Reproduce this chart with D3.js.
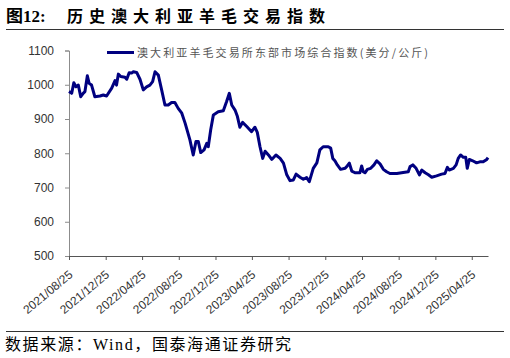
<!DOCTYPE html>
<html>
<head>
<meta charset="utf-8">
<script src="https://cdn.jsdelivr.net/npm/d3@7"></script>
<style>
  body { margin: 0; background: #fff; }
  svg { display: block; }
</style>
</head>
<body>
<svg id="chart" width="510" height="358"></svg>
<script>
// weekly-ish readings of the index, US cents / kg
const dates = [
  "2021-08-25","2021-09-03","2021-09-10","2021-09-17","2021-09-25","2021-10-03","2021-10-11","2021-10-17",
  "2021-10-25","2021-10-31","2021-11-08","2021-11-19","2021-12-06","2021-12-17","2021-12-28","2022-01-14",
  "2022-01-25","2022-01-30","2022-02-05","2022-02-13","2022-02-27","2022-03-05","2022-03-13","2022-03-21",
  "2022-03-27","2022-04-07","2022-04-18","2022-04-29","2022-05-10","2022-05-21","2022-05-30","2022-06-07",
  "2022-06-18","2022-06-29","2022-07-10","2022-07-21","2022-08-01","2022-08-12","2022-08-23","2022-09-04",
  "2022-09-15","2022-10-01","2022-10-12","2022-10-21","2022-10-29","2022-11-06","2022-11-17","2022-11-26",
  "2022-12-01","2022-12-09","2022-12-18","2023-01-03","2023-01-20","2023-01-31","2023-02-09","2023-02-17",
  "2023-02-28","2023-03-08","2023-03-16","2023-03-25","2023-04-08","2023-04-24","2023-05-05","2023-05-13",
  "2023-05-22","2023-05-31","2023-06-08","2023-06-19","2023-06-30","2023-07-14","2023-07-28","2023-08-08",
  "2023-08-19","2023-08-30","2023-09-10","2023-09-19","2023-10-02","2023-10-13","2023-10-24","2023-11-02",
  "2023-11-15","2023-11-27","2023-12-07","2023-12-18","2024-01-04","2024-01-12","2024-01-19","2024-01-26",
  "2024-02-03","2024-02-14","2024-02-29","2024-03-07","2024-03-14","2024-03-22","2024-04-02","2024-04-13",
  "2024-04-18","2024-04-24","2024-04-29","2024-05-05","2024-05-13","2024-05-24","2024-06-04","2024-06-13",
  "2024-06-24","2024-07-05","2024-07-16","2024-07-27","2024-08-19","2024-09-09","2024-09-26","2024-10-02",
  "2024-10-11","2024-10-22","2024-11-02","2024-11-10","2024-11-21","2024-12-02","2024-12-13","2024-12-29",
  "2025-01-15","2025-01-26","2025-02-03","2025-02-09","2025-02-23","2025-03-04","2025-03-11","2025-03-19",
  "2025-03-28","2025-04-05","2025-04-10","2025-04-17","2025-04-28","2025-05-11","2025-05-22","2025-06-02",
  "2025-06-14","2025-06-18"
];
const values = [
  980, 975, 1006, 994, 999, 965, 975, 980,
  1026, 1004, 999, 965, 967, 970, 967, 990,
  1012, 999, 1031, 1024, 1022, 1016, 1035, 1034,
  1038, 1036, 1016, 985, 994, 999, 1009, 1038,
  1028, 985, 941, 941, 948, 948, 931, 917,
  888, 839, 795, 834, 834, 802, 810, 829,
  819, 868, 912, 921, 924, 951, 975, 941,
  926, 907, 876, 890, 878, 863, 876, 861,
  819, 785, 806, 795, 782, 795, 785, 771,
  737, 720, 722, 739, 730, 724, 729, 717,
  756, 772, 810, 819, 819, 815, 785, 778,
  766, 753, 756, 763, 771, 748, 743, 743,
  743, 763, 746, 743, 753, 756, 766, 778,
  769, 753, 746, 741, 741, 744, 746, 761,
  766, 756, 737, 751, 743, 737, 730, 734,
  739, 741, 759, 751, 756, 766, 785, 795,
  788, 788, 756, 782, 778, 772, 775, 775,
  782, 787
];
const yTicks = [500, 600, 700, 800, 900, 1000, 1100];
const xTickDates = [
  "2021-08-25","2021-12-25","2022-04-25","2022-08-25","2022-12-25","2023-04-25",
  "2023-08-25","2023-12-25","2024-04-25","2024-08-25","2024-12-25","2025-04-25"
];

const titleText = "历史澳大利亚羊毛交易指数";
const seriesName = "澳大利亚羊毛交易所东部市场综合指数(美分/公斤)";
const sourceText = "数据来源：Wind，国泰海通证券研究";

const parse = d3.timeParse("%Y-%m-%d");
const data = dates.map((d, i) => ({ date: parse(d), value: values[i] }));

const svg = d3.select("#chart");
const margin = { left: 69, right: 22, top: 50.5, bottom: 102 };
const W = 510, H = 358;

const x = d3.scaleTime()
  .domain(d3.extent(data, d => d.date))
  .range([margin.left, W - margin.right]);
const y = d3.scaleLinear()
  .domain([500, 1100])
  .range([H - margin.bottom, margin.top]);

const cjk = "'Liberation Serif', 'Noto Sans CJK SC', serif";

// title
svg.append("text")
  .attr("x", 6).attr("y", 22)
  .attr("font-family", cjk)
  .attr("font-size", 17).attr("font-weight", "bold")
  .attr("fill", "#000")
  .text("图12:");
svg.append("text")
  .attr("x", 67).attr("y", 22)
  .attr("font-family", cjk)
  .attr("font-size", 16).attr("font-weight", "bold")
  .attr("letter-spacing", "6px")
  .attr("fill", "#000")
  .text(titleText);
svg.append("line")
  .attr("x1", 6).attr("x2", 504).attr("y1", 29.5).attr("y2", 29.5)
  .attr("stroke", "#333").attr("stroke-width", 1);

// y axis
const yAxis = svg.append("g")
  .attr("transform", "translate(" + margin.left + ",0)")
  .call(d3.axisLeft(y).tickValues(yTicks).tickFormat(d3.format("d"))
    .tickSize(4).tickPadding(11));
yAxis.select(".domain").attr("stroke", "#8c8c8c");
yAxis.selectAll(".tick line").attr("stroke", "#8c8c8c");
yAxis.selectAll("text")
  .attr("font-family", "'Liberation Sans', Arial, sans-serif")
  .attr("font-size", 12).attr("fill", "#333");

// x axis
const xAxis = svg.append("g")
  .attr("transform", "translate(0," + (H - margin.bottom) + ")")
  .call(d3.axisBottom(x)
    .tickValues(xTickDates.map(parse))
    .tickFormat(d3.timeFormat("%Y/%m/%d"))
    .tickSize(4).tickSizeOuter(0));
xAxis.select(".domain").attr("stroke", "#555");
xAxis.selectAll(".tick line").attr("stroke", "#555");
xAxis.selectAll("text")
  .attr("font-family", "'Liberation Sans', Arial, sans-serif")
  .attr("font-size", 12).attr("fill", "#333")
  .style("text-anchor", "end")
  .attr("x", 0).attr("y", 0)
  .attr("dx", "0").attr("dy", "0")
  .attr("transform", "translate(4,20) rotate(-40)");

// series line
svg.append("path")
  .datum(data)
  .attr("fill", "none")
  .attr("stroke", "#000080")
  .attr("stroke-width", 3)
  .attr("stroke-linejoin", "round")
  .attr("d", d3.line().x(d => x(d.date)).y(d => y(d.value)));

// legend
svg.append("line")
  .attr("x1", 107).attr("x2", 134).attr("y1", 52.5).attr("y2", 52.5)
  .attr("stroke", "#000080").attr("stroke-width", 3);
svg.append("text")
  .attr("x", 137).attr("y", 56.5)
  .attr("font-family", "'Noto Sans CJK SC', sans-serif")
  .attr("font-size", 11)
  .attr("letter-spacing", "2.1px")
  .attr("fill", "#555")
  .text(seriesName);

// footer
svg.append("line")
  .attr("x1", 6).attr("x2", 504).attr("y1", 331.5).attr("y2", 331.5)
  .attr("stroke", "#333").attr("stroke-width", 1);
svg.append("text")
  .attr("x", 5).attr("y", 350)
  .attr("font-family", cjk)
  .attr("font-size", 16)
  .attr("letter-spacing", "1.6px")
  .attr("fill", "#000")
  .text(sourceText);
</script>
</body>
</html>
